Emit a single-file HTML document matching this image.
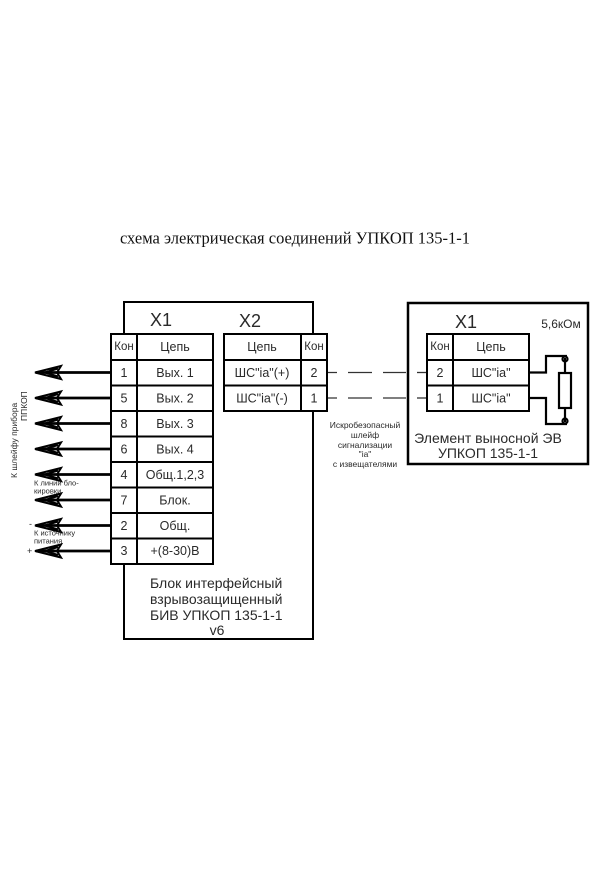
<!DOCTYPE html>
<html>
<head>
<meta charset="utf-8">
<style>
html,body{margin:0;padding:0;background:#fff;}
svg{display:block;}
text{font-family:"Liberation Sans","DejaVu Sans",sans-serif;fill:#2a2a2a;}
.serif{font-family:"Liberation Serif","DejaVu Serif",serif;fill:#111;}
</style>
</head>
<body>
<svg width="600" height="888" viewBox="0 0 600 888" xmlns="http://www.w3.org/2000/svg">
<rect width="600" height="888" fill="#fff"/>

<!-- Title -->
<text class="serif" x="295" y="238" font-size="16.5" text-anchor="middle" dominant-baseline="central">схема электрическая соединений УПКОП 135-1-1</text>

<!-- Main block -->
<rect x="124" y="302" width="189" height="337" fill="#fff" stroke="#000" stroke-width="2"/>
<text x="150" y="320" font-size="18" dominant-baseline="central">X1</text>
<text x="239" y="321" font-size="18" dominant-baseline="central">X2</text>

<!-- X1 table -->
<g stroke="#000" stroke-width="2" fill="#fff">
<rect x="111" y="334" width="102" height="230"/>
<line x1="137" y1="334" x2="137" y2="564"/>
<line x1="111" y1="360" x2="213" y2="360"/>
<line x1="111" y1="385.5" x2="213" y2="385.5"/>
<line x1="111" y1="411" x2="213" y2="411"/>
<line x1="111" y1="436.5" x2="213" y2="436.5"/>
<line x1="111" y1="462" x2="213" y2="462"/>
<line x1="111" y1="487.5" x2="213" y2="487.5"/>
<line x1="111" y1="513" x2="213" y2="513"/>
<line x1="111" y1="538.5" x2="213" y2="538.5"/>
</g>
<g font-size="12.5" text-anchor="middle" dominant-baseline="central">
<text x="124" y="347" font-size="11.5">Кон</text>
<text x="175" y="347">Цепь</text>
<text x="124" y="373">1</text><text x="175" y="373">Вых. 1</text>
<text x="124" y="398.5">5</text><text x="175" y="398.5">Вых. 2</text>
<text x="124" y="424">8</text><text x="175" y="424">Вых. 3</text>
<text x="124" y="449.5">6</text><text x="175" y="449.5">Вых. 4</text>
<text x="124" y="475">4</text><text x="175" y="475">Общ.1,2,3</text>
<text x="124" y="500.5">7</text><text x="175" y="500.5">Блок.</text>
<text x="124" y="526">2</text><text x="175" y="526">Общ.</text>
<text x="124" y="551">3</text><text x="175" y="551">+(8-30)В</text>
</g>

<!-- X2 table -->
<g stroke="#000" stroke-width="2" fill="#fff">
<rect x="224" y="334" width="103" height="77"/>
<line x1="301" y1="334" x2="301" y2="411"/>
<line x1="224" y1="360" x2="327" y2="360"/>
<line x1="224" y1="385.5" x2="327" y2="385.5"/>
</g>
<g font-size="12.5" text-anchor="middle" dominant-baseline="central">
<text x="262" y="347">Цепь</text>
<text x="314" y="347" font-size="11.5">Кон</text>
<text x="262" y="373">ШС"ia"(+)</text><text x="314" y="373">2</text>
<text x="262" y="398.5">ШС"ia"(-)</text><text x="314" y="398.5">1</text>
</g>

<!-- Block caption -->
<g font-size="14" dominant-baseline="central">
<text x="150" y="583">Блок интерфейсный</text>
<text x="150" y="599">взрывозащищенный</text>
<text x="150" y="615">БИВ УПКОП 135-1-1</text>
<text x="217" y="630" text-anchor="middle">v6</text>
</g>

<!-- Left arrows -->
<g stroke="#000" fill="none">
<g stroke-width="2.8">
<line x1="36" y1="372.5" x2="111" y2="372.5"/>
<line x1="36" y1="398" x2="111" y2="398"/>
<line x1="36" y1="423.5" x2="111" y2="423.5"/>
<line x1="36" y1="449" x2="111" y2="449"/>
<line x1="36" y1="474.5" x2="111" y2="474.5"/>
<line x1="36" y1="500" x2="111" y2="500"/>
<line x1="36" y1="525.5" x2="111" y2="525.5"/>
<line x1="36" y1="551" x2="111" y2="551"/>
</g>
<g stroke-width="2">
<path d="M35 372.5 L61 366 L57 372.5 L61 379 Z M45 372.5 L58 368.5 M45 372.5 L58 376.5"/>
<path d="M35 398 L61 391.5 L57 398 L61 404.5 Z M45 398 L58 394 M45 398 L58 402"/>
<path d="M35 423.5 L61 417 L57 423.5 L61 430 Z M45 423.5 L58 419.5 M45 423.5 L58 427.5"/>
<path d="M35 449 L61 442.5 L57 449 L61 455.5 Z M45 449 L58 445 M45 449 L58 453"/>
<path d="M35 474.5 L61 468 L57 474.5 L61 481 Z M45 474.5 L58 470.5 M45 474.5 L58 478.5"/>
<path d="M35 500 L61 493.5 L57 500 L61 506.5 Z M45 500 L58 496 M45 500 L58 504"/>
<path d="M35 525.5 L61 519 L57 525.5 L61 532 Z M45 525.5 L58 521.5 M45 525.5 L58 529.5"/>
<path d="M35 551 L61 544.5 L57 551 L61 557.5 Z M45 551 L58 547 M45 551 L58 555"/>
</g>
</g>

<!-- Left labels -->
<g font-size="8.5">
<text transform="translate(14,478) rotate(-90)" dominant-baseline="central">К шлейфу прибора</text>
<text transform="translate(24,421) rotate(-90)" dominant-baseline="central">ППКОП</text>
</g>
<g font-size="7.5" dominant-baseline="central">
<text x="34" y="483">К линии бло-</text>
<text x="34" y="491">кировки</text>
<text x="29" y="524" font-size="9">-</text>
<text x="34" y="533">К источнику</text>
<text x="34" y="541">питания</text>
<text x="27" y="551" font-size="9">+</text>
</g>

<!-- Dashed lines -->
<g stroke="#333" stroke-width="1.3">
<line x1="328" y1="372.5" x2="406" y2="372.5" stroke-dasharray="9 11 24 11 24 11"/>
<line x1="328" y1="398" x2="406" y2="398" stroke-dasharray="9 11 24 11 24 11"/>
<line x1="417" y1="372.5" x2="427" y2="372.5"/>
<line x1="417" y1="398" x2="427" y2="398"/>
</g>

<!-- Middle text -->
<g font-size="8.5" text-anchor="middle" dominant-baseline="central">
<text x="365" y="425">Искробезопасный</text>
<text x="365" y="435">шлейф</text>
<text x="365" y="445">сигнализации</text>
<text x="365" y="454">"ia"</text>
<text x="365" y="464">с извещателями</text>
</g>

<!-- Right block -->
<rect x="408" y="303" width="180" height="161" fill="none" stroke="#000" stroke-width="2.5"/>
<text x="455" y="322" font-size="18" dominant-baseline="central">X1</text>
<text x="561" y="324" font-size="12" text-anchor="middle" dominant-baseline="central">5,6кОм</text>
<g stroke="#000" stroke-width="2" fill="#fff">
<rect x="427" y="334" width="102" height="77"/>
<line x1="453" y1="334" x2="453" y2="411"/>
<line x1="427" y1="360" x2="529" y2="360"/>
<line x1="427" y1="385.5" x2="529" y2="385.5"/>
</g>
<g font-size="12.5" text-anchor="middle" dominant-baseline="central">
<text x="440" y="347" font-size="11.5">Кон</text>
<text x="491" y="347">Цепь</text>
<text x="440" y="373">2</text><text x="491" y="373">ШС"ia"</text>
<text x="440" y="398.5">1</text><text x="491" y="398.5">ШС"ia"</text>
</g>

<!-- Resistor -->
<g stroke="#000" stroke-width="2.2" fill="none">
<path d="M529 372.5 H546 V356 H567"/>
<path d="M529 398 H546 V424 H567"/>
<line x1="565" y1="358" x2="565" y2="373"/>
<line x1="565" y1="408" x2="565" y2="422"/>
<rect x="559" y="373" width="12" height="35" fill="#fff"/>
<circle cx="565" cy="359" r="2.5"/>
<circle cx="565" cy="421" r="2.5"/>
</g>

<g font-size="14" text-anchor="middle" dominant-baseline="central">
<text x="488" y="438">Элемент выносной ЭВ</text>
<text x="488" y="453">УПКОП 135-1-1</text>
</g>
</svg>
</body>
</html>
